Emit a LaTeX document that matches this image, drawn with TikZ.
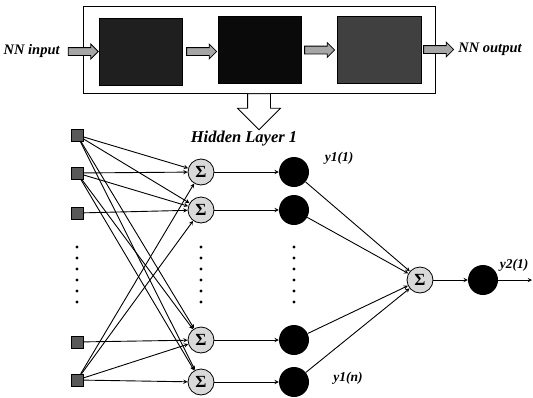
\documentclass[tikz,border=0pt]{standalone}
\usepackage{fontspec}
\setmainfont{Liberation Serif}
\usetikzlibrary{shapes,arrows,positioning}

\begin{document}
\begin{tikzpicture}[
    x=1pt, y=-1pt,
    block/.style={rectangle, draw=black, minimum width=83pt, minimum height=67pt},
    fatarrow/.style={single arrow, draw=black, thick, fill=gray!70, minimum height=30pt, inner sep=3.5pt, single arrow head extend=3.5pt, single arrow head indent=0pt},
    caption/.style={font=\bfseries\itshape\fontsize{14.5}{16}\selectfont, inner sep=0pt},
    ylabel/.style={font=\bfseries\itshape\fontsize{13.5}{15}\selectfont, inner sep=0pt},
    input/.style={rectangle, draw=black, fill=black!65, minimum size=12pt, inner sep=0pt},
    sum/.style={circle, draw=black, thick, fill=gray!30, minimum size=26pt, inner sep=0pt, font=\bfseries\fontsize{17}{17}\selectfont},
    neuron/.style={circle, fill=black, minimum size=30pt, inner sep=0pt},
    arrow/.style={line width=0.9pt,->,>=stealth}
]
\useasboundingbox (0,0) rectangle (533,397);

% processing chain
\node[draw, semithick, minimum width=352pt, minimum height=87pt] (frame) at (259,49.5) {};
\node[block, fill=black!88] (box1) at (140.5,51.5) {};
\node[block, fill=black!96] (box2) at (259.5,50) {};
\node[block, fill=black!75, minimum width=84pt] (box3) at (379,49.5) {};
\node[fatarrow, left=0pt of box1] (a1) {};
\node[fatarrow, right=4pt of box1] (a2) {};
\node[fatarrow, right=3pt of box2] (a3) {};
\node[fatarrow, right=2pt of box3] (a4) {};
\node[caption, left=8pt of a1] (nnin) {NN input};
\node[caption, right=4pt of a4] (nnout) {NN output};
\node[single arrow, draw, thick, fill=white, shape border rotate=270, minimum height=36pt, inner sep=11pt, single arrow head extend=10pt, single arrow head indent=0pt, anchor=tail] (down) at (frame.south) {};
\node[caption, font=\bfseries\itshape\fontsize{16.5}{18}\selectfont] (hidden) at (244,139) {Hidden Layer 1};

% network
\node[input] (in1) at (77,135) {};
\node[input] (in2) at (77,173) {};
\node[input] (in3) at (77,213) {};
\node[input] (in4) at (77,342) {};
\node[input] (in5) at (77,380) {};
\node[sum] (s1) at (201,172) {Σ};
\node[sum] (s2) at (201,210) {Σ};
\node[sum] (s3) at (201,340) {Σ};
\node[sum] (s4) at (201,382) {Σ};
\node[neuron] (h1) at (294,172) {};
\node[neuron] (h2) at (294,210) {};
\node[neuron] (h3) at (294,340) {};
\node[neuron] (h4) at (294,382) {};
\node[sum] (so) at (420,280) {Σ};
\node[neuron] (out) at (483,280) {};
\coordinate (yend) at (532,280);
\node[ylabel] (y11) at (339,158) {y1(1)};
\node[ylabel] (y1n) at (348,378) {y1(n)};
\node[ylabel] (y21) at (514,265) {y2(1)};

\foreach \x in {77,201,294}
  \foreach \y in {247,258,...,303}
    \fill (\x,\y) circle (1.7pt);

\draw[arrow] (in1) -- (s1);
\draw[arrow] (in1) -- (s2);
\draw[arrow] (in1) -- (s3);
\draw[arrow] (in1) -- (s4);
\draw[arrow] (in2) -- (s1);
\draw[arrow] (in2) -- (s2);
\draw[arrow] (in2) -- (s3);
\draw[arrow] (in2) -- (s4);
\draw[arrow] (in3) -- (s2);
\draw[arrow] (in4) -- (s3);
\draw[arrow] (in5) -- (s1);
\draw[arrow] (in5) -- (s2);
\draw[arrow] (in5) -- (s3);
\draw[arrow] (in5) -- (s4);
\draw[arrow] (s1) -- (h1);
\draw[arrow] (s2) -- (h2);
\draw[arrow] (s3) -- (h3);
\draw[arrow] (s4) -- (h4);
\draw[arrow] (h1) -- (so);
\draw[arrow] (h2) -- (so);
\draw[arrow] (h3) -- (so);
\draw[arrow] (h4) -- (so);
\draw[arrow] (so) -- (out);
\draw[arrow] (out) -- (yend);
\end{tikzpicture}
\end{document}
